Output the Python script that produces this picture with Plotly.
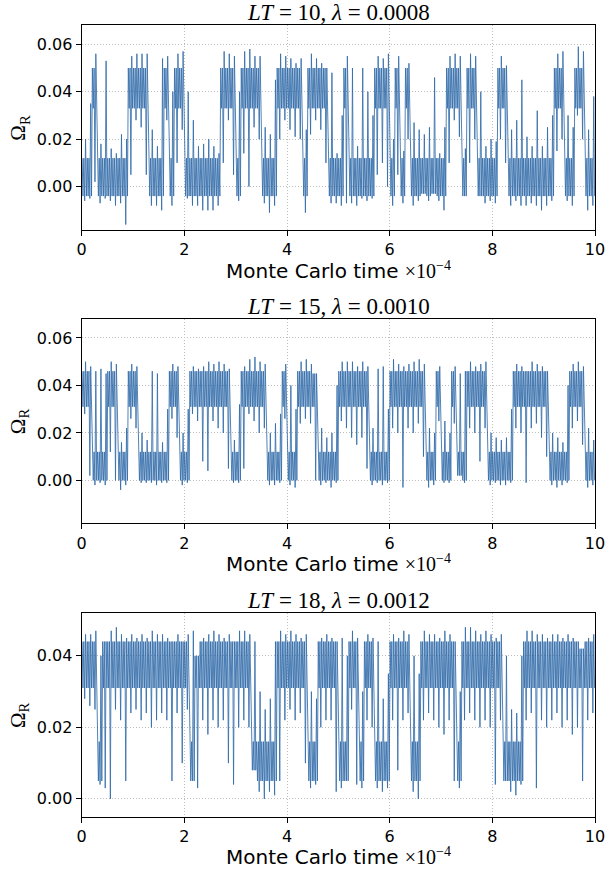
import plotly.graph_objects as go

# ---------------- data (values in units of 1e-3, read per 0.1 time-bin) ----------------
VALUE_SCALE = 1e-3
BIN_WIDTH = 0.1
bin_time = [round(BIN_WIDTH * i, 1) for i in range(100)]  # Monte Carlo time (x 10^4)

title_html = [
    "<i>LT</i> = 10, <i>λ</i> = 0.0008",
    "<i>LT</i> = 15, <i>λ</i> = 0.0010",
    "<i>LT</i> = 18, <i>λ</i> = 0.0012",
]

# Panel 1: LT=10  -- extreme low / high per bin, dominant state per bin (H/L), dense core per state
p1_low = [-6, -5, 2, -7, -5, -6, -8, -7, -16, 5,
          28, 25, 5, -8, -8, -10, 28, -8, 10, 24,
          -5, -8, -8, -10, -10, -10, -8, 10, 28, 5,
          -6, 14, 0, 25, 20, -7, -11, -8, 20, 28,
          24, 21, 20, -11, 22, 28, 24, 10, -7, -7,
          -8, -7, -7, -8, -5, -6, -5, 5, 10, 0,
          -8, 5, -7, 20, -8, -6, -3, -6, -3, -6,
          -10, 10, 28, 21, -4, 10, 20, -4, -7, -6,
          -7, 20, 10, -8, -6, -8, -8, -7, -8, -10,
          -8, -6, 15, 20, -6, -8, 30, 20, -10, -8]
p1_high = [20, 35, 56, 18, 53, 16, 14, 22, 20, 55,
           56, 56, 56, 24, 17, 54, 55, 40, 56, 57,
           40, 28, 17, 18, 20, 17, 14, 57, 56, 55,
           40, 57, 58, 55, 55, 25, 22, 45, 56, 55,
           54, 52, 54, 24, 56, 54, 52, 50, 48, 14,
           30, 55, 50, 17, 50, 40, 30, 55, 54, 56,
           20, 55, 15, 52, 27, 24, 22, 25, 46, 14,
           25, 55, 56, 55, 16, 56, 55, 40, 17, 20,
           19, 55, 51, 24, 28, 45, 21, 17, 32, 17,
           25, 30, 56, 57, 30, 25, 59, 57, 24, 38]
p1_state = ("LLHLLLLLLH" "HHHLLLHLHH" "LLLLLLLHHH" "LHHHHLLLHH" "HHHLHHHHLL"
            "LHLLLLLHHH" "LHLHLLLLLL" "LHHHLHHLLL" "LHHLLLLLLL" "LLHHLLHHLL")
p1_core = {"H": (33, 50), "L": (-4, 12)}

# Panel 2: LT=15
p2_low = [28, 2, -2, -1, -2, 12, 0, -4, -2, 26,
          22, -1, -1, -1, -2, -1, -1, 26, 18, -2,
          -1, 28, 25, 8, 4, 25, 22, 20, 5, -1,
          -1, 5, 28, 25, 20, 22, -2, -2, -1, 26,
          -2, -3, 24, 26, 24, 0, -2, -1, -3, -1,
          25, 22, 18, 15, 18, 5, -2, -1, -2, -1,
          22, 20, -3, 22, 20, 24, 10, -3, -2, 25,
          -1, -1, 24, 2, -1, 22, 20, 8, 22, -2,
          -1, -2, -2, -1, 22, 20, -1, 22, 24, 18,
          10, -2, -3, -2, -1, 22, 25, 15, -3, -2]
p2_high = [50, 48, 46, 47, 45, 50, 49, 16, 22, 49,
           48, 20, 17, 46, 45, 16, 30, 49, 48, 20,
           30, 48, 47, 48, 50, 49, 50, 49, 47, 17,
           32, 48, 51, 52, 50, 49, 20, 24, 28, 49,
           40, 30, 50, 51, 49, 45, 22, 18, 20, 40,
           50, 50, 50, 48, 50, 48, 22, 47, 48, 30,
           51, 49, 48, 49, 50, 51, 49, 22, 20, 48,
           25, 20, 48, 45, 46, 50, 48, 49, 50, 20,
           18, 17, 18, 30, 49, 48, 46, 50, 49, 48,
           46, 20, 18, 16, 40, 49, 50, 48, 22, 17]
p2_state = ("HHLLLHHLLH" "HLLLLLLHHL" "LHHHHHHHHL" "LHHHHHLLLH" "LLHHHHLLLL"
            "HHHHHHLLLL" "HHHHHHHLLH" "LLHLLHHHHL" "LLLLHHHHHH" "HLLLLHHHLL")
p2_core = {"H": (31, 46), "L": (0, 12)}

# Panel 3: LT=18
p3_low = [28, 26, 25, 4, 3, 0, 25, 22, 5, 24,
          25, 22, 24, 20, 22, 24, 22, 5, 24, 10,
          25, 5, 3, 22, 18, 22, 20, 22, 10, 4,
          20, 22, 20, 8, 2, 0, 2, 1, 5, 22,
          25, 22, 24, 10, 3, 4, 20, 22, 22, 2,
          3, 5, 25, 4, 3, 22, 20, 3, 2, 3,
          22, 8, 22, 24, 2, 0, 22, 24, 22, 20,
          18, 22, 5, 3, 22, 24, 22, 20, 22, 20,
          4, 22, 5, 2, 1, 4, 22, 24, 3, 22,
          20, 22, 24, 20, 22, 18, 20, 5, 22, 24]
p3_high = [46, 46, 47, 40, 44, 47, 48, 46, 45, 46,
           45, 46, 45, 47, 46, 46, 45, 44, 46, 44,
           46, 47, 40, 45, 46, 47, 46, 45, 46, 44,
           47, 47, 46, 44, 30, 25, 28, 44, 47, 46,
           47, 46, 45, 46, 30, 28, 45, 46, 45, 44,
           45, 40, 47, 45, 30, 46, 45, 44, 28, 35,
           46, 45, 47, 46, 40, 35, 47, 46, 46, 45,
           47, 46, 44, 30, 48, 48, 47, 46, 47, 46,
           45, 46, 40, 25, 24, 40, 47, 47, 46, 46,
           45, 46, 46, 45, 46, 45, 44, 42, 45, 46]
p3_state = ("HHHLHHHHHH" "HHHHHHHHHH" "HLHHHHHHHH" "HHHLLLLLHH" "HHHHLLHHHH"
            "LLHHLHHLLL" "HHHHLLHHHH" "HHHLHHHHHH" "HHLLLLHHHH" "HHHHHHHHHH")
p3_core = {"H": (31, 44), "L": (5, 16)}

panels = [(p1_low, p1_high, p1_state, p1_core),
          (p2_low, p2_high, p2_state, p2_core),
          (p3_low, p3_high, p3_state, p3_core)]

x_ticks = [0, 2, 4, 6, 8, 10]
x_tick_labels = ["0", "2", "4", "6", "8", "10"]
y_ticks = [[0.0, 0.02, 0.04, 0.06], [0.0, 0.02, 0.04, 0.06], [0.0, 0.02, 0.04]]
y_ranges = [[-0.0183, 0.068], [-0.0181, 0.068], [-0.0050, 0.0519]]

# ---------------- layout geometry (pixels of the 606x873 page) ----------------
W, H = 606, 873
x_dom = [81.7 / W, 595.0 / W]
panel_px = [(25.3, 230.0), (319.0, 523.3), (613.3, 816.7)]  # top, bottom

LINE_COLOR = "rgb(16,84,156)"
# visiting order inside one bin: core-high, core-low, core-high, extreme-low, extreme-high, core-low
VISIT = ["ch", "cl", "ch", "lo", "hi", "cl"]
fig = go.Figure()

for k, (lo, hi, state, core) in enumerate(panels):
    sfx = "" if k == 0 else str(k + 1)
    xs, ys = [], []
    for t, a, b, s in zip(bin_time, lo, hi, state):
        vals = {"lo": a, "hi": b,
                "cl": min(max(a, core[s][0]), b),
                "ch": max(min(b, core[s][1]), a)}
        n = len(VISIT)
        for j, key in enumerate(VISIT):
            xs.append(t + BIN_WIDTH * (j + 0.5) / n)
            ys.append(vals[key] * VALUE_SCALE)
    fig.add_trace(go.Scatter(
        x=xs, y=ys, mode="lines",
        line=dict(color=LINE_COLOR, width=0.85),
        opacity=0.85,
        xaxis="x" + sfx, yaxis="y" + sfx, showlegend=False, hoverinfo="skip",
    ))

layout = dict(
    width=W, height=H,
    margin=dict(l=0, r=0, t=0, b=0),
    paper_bgcolor="white", plot_bgcolor="white",
    showlegend=False,
    annotations=[],
)

axis_common = dict(
    showline=True, mirror=True, linecolor="black", linewidth=1.2,
    ticks="outside", ticklen=5, tickwidth=1.2, tickcolor="black",
    showgrid=True, gridcolor="#bdbdbd", griddash="1px,2px", gridwidth=1,
    zeroline=False, automargin=False,
    tickfont=dict(family="DejaVu Sans", size=16, color="black"),
)

for k in range(3):
    top, bot = panel_px[k]
    ydom = [1 - bot / H, 1 - top / H]
    sfx = "" if k == 0 else str(k + 1)
    layout["xaxis" + sfx] = dict(
        axis_common, domain=x_dom, range=[0, 10],
        tickvals=x_ticks, ticktext=x_tick_labels,
        anchor="y" + sfx,
    )
    layout["yaxis" + sfx] = dict(
        axis_common, domain=ydom, range=y_ranges[k],
        tickvals=y_ticks[k], tickformat=".2f",
        anchor="x" + sfx,
    )
    layout["annotations"].append(dict(
        text=title_html[k], xref="paper", yref="paper",
        x=(x_dom[0] + x_dom[1]) / 2, y=1 - (top - 13) / H,
        xanchor="center", yanchor="middle", showarrow=False,
        font=dict(family="Liberation Serif", size=23, color="black"),
    ))
    layout["annotations"].append(dict(
        text="Monte Carlo time <span style='font-family:Liberation Serif'>×10<sup>−4</sup></span>",
        xref="paper", yref="paper",
        x=(x_dom[0] + x_dom[1]) / 2, y=1 - (bot + 40) / H,
        xanchor="center", yanchor="middle", showarrow=False,
        font=dict(family="DejaVu Sans", size=20, color="black"),
    ))
    layout["annotations"].append(dict(
        text="Ω<sub>R</sub>", xref="paper", yref="paper",
        x=19 / W, y=1 - ((top + bot) / 2) / H,
        xanchor="center", yanchor="middle", showarrow=False, textangle=-90,
        font=dict(family="Liberation Serif", size=21, color="black"),
    ))

fig.update_layout(**layout)
fig.write_html(
    "out.html",
    config={"displayModeBar": False},
    post_script="document.body.style.margin='0px';document.body.style.overflow='hidden';",
)
